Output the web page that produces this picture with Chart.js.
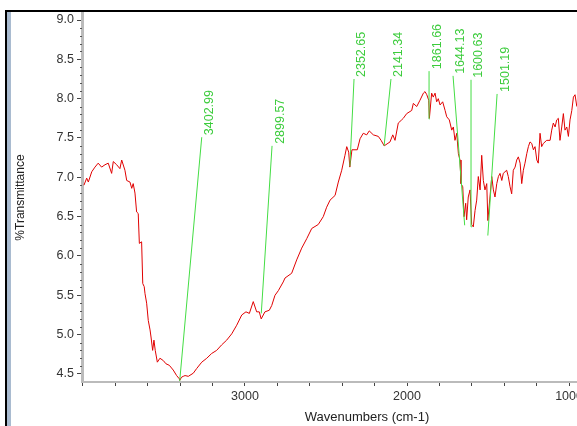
<!DOCTYPE html>
<html>
<head>
<meta charset="utf-8">
<script src="https://cdn.jsdelivr.net/npm/chart.js@4.4.0/dist/chart.umd.min.js"></script>
<style>
  html, body { margin: 0; padding: 0; background: #fff; overflow: hidden; }
  #frame { position: absolute; left: 5px; top: 10px; width: 700px; height: 440px; border-top: 2px solid #000; border-left: 2px solid #000; }
  #strip { position: absolute; left: 7px; top: 12px; width: 4px; height: 440px; background: #a9bbd0; }
  #wrap { position: absolute; left: 0; top: 0; }
</style>
</head>
<body>
<div id="frame"></div>
<div id="strip"></div>
<div id="wrap"><canvas id="irChart" width="700" height="426"></canvas></div>
<script>
// spectrum (cm-1, %T)
const wavenumbers = [
  3994, 3977, 3967, 3946, 3926, 3906, 3885, 3864, 3844, 3823, 3813, 3792, 3772, 3761, 3741, 3730,
  3710, 3699, 3690, 3679, 3669, 3659, 3652, 3638, 3631, 3622, 3617, 3607, 3597, 3586, 3580, 3570,
  3562, 3554, 3541, 3525, 3504, 3488, 3467, 3443, 3422, 3406, 3403, 3391, 3381, 3370, 3350, 3319,
  3298, 3267, 3236, 3206, 3175, 3144, 3113, 3082, 3051, 3020, 2994, 2973, 2949, 2928, 2912, 2900,
  2877, 2850, 2835, 2815, 2794, 2764, 2753, 2712, 2681, 2650, 2619, 2588, 2548, 2517, 2496, 2475,
  2444, 2424, 2403, 2383, 2372, 2360, 2353, 2340, 2307, 2290, 2270, 2249, 2233, 2208, 2177, 2160,
  2141, 2105, 2088, 2074, 2054, 2033, 2023, 2002, 1971, 1961, 1940, 1920, 1899, 1889, 1878, 1866,
  1862, 1848, 1838, 1827, 1817, 1807, 1796, 1780, 1765, 1755, 1739, 1724, 1714, 1704, 1693, 1683,
  1673, 1667, 1656, 1648, 1638, 1632, 1622, 1611, 1601, 1591, 1580, 1570, 1560, 1549, 1539, 1529,
  1519, 1508, 1501, 1488, 1477, 1467, 1457, 1446, 1436, 1426, 1415, 1406, 1385, 1375, 1364, 1354,
  1344, 1333, 1323, 1313, 1302, 1292, 1282, 1272, 1261, 1251, 1241, 1230, 1220, 1210, 1199, 1190,
  1179, 1169, 1159, 1138, 1117, 1107, 1097, 1086, 1076, 1066, 1056, 1045, 1035, 1025, 1014, 1004,
  994, 983, 973, 963, 952
];
const transmittance = [
  6.90, 6.99, 6.94, 7.07, 7.13, 7.18, 7.13, 7.16, 7.18, 7.05, 7.20, 7.16, 7.11, 7.22, 7.09, 6.96,
  6.94, 6.86, 6.92, 6.80, 6.56, 6.54, 6.16, 6.18, 5.65, 5.61, 5.52, 5.40, 5.18, 5.06, 4.97, 4.80,
  4.93, 4.80, 4.65, 4.70, 4.67, 4.63, 4.61, 4.55, 4.48, 4.44, 4.42, 4.46, 4.47, 4.48, 4.47, 4.51,
  4.57, 4.65, 4.70, 4.76, 4.80, 4.87, 4.93, 5.01, 5.12, 5.25, 5.29, 5.27, 5.42, 5.29, 5.29, 5.20,
  5.29, 5.31, 5.37, 5.50, 5.56, 5.67, 5.72, 5.78, 5.95, 6.10, 6.22, 6.35, 6.40, 6.50, 6.62, 6.71,
  6.77, 6.94, 7.09, 7.28, 7.39, 7.32, 7.13, 7.35, 7.35, 7.49, 7.56, 7.54, 7.59, 7.54, 7.52, 7.47,
  7.40, 7.45, 7.54, 7.47, 7.69, 7.73, 7.75, 7.81, 7.85, 7.94, 7.90, 7.98, 8.07, 8.09, 8.05, 7.98,
  7.75, 8.07, 8.02, 8.07, 7.96, 8.00, 7.92, 7.96, 7.85, 7.77, 7.73, 7.60, 7.64, 7.47, 7.56, 7.30,
  7.22, 6.92, 6.88, 6.50, 6.67, 6.46, 6.75, 6.84, 6.40, 6.37, 6.58, 6.71, 7.01, 6.84, 7.28, 6.96,
  6.84, 6.92, 6.45, 6.75, 7.01, 6.84, 6.75, 6.92, 7.01, 7.05, 6.96, 7.05, 7.09, 7.01, 6.88, 6.79,
  7.09, 7.13, 7.22, 7.26, 7.18, 6.92, 7.09, 7.18, 7.30, 7.39, 7.45, 7.43, 7.35, 7.39, 7.22, 7.18,
  7.56, 7.39, 7.43, 7.47, 7.47, 7.60, 7.69, 7.64, 7.73, 7.75, 7.47, 7.64, 7.81, 7.60, 7.64, 7.52,
  7.73, 7.85, 8.02, 8.05, 7.90
];

// picked peaks: label, peak position, and where the leader line ends
const peakLabels = ['3402.99', '2899.57', '2352.65', '2141.34', '1861.66', '1644.13', '1600.63', '1501.19'];
const peakWn = [3402.99, 2899.57, 2352.65, 2141.34, 1861.66, 1644.13, 1600.63, 1501.19];
const peakT = [4.41, 5.27, 7.14, 7.40, 7.74, 6.39, 6.37, 6.26];
const leaderWn = [3267, 2833, 2327, 2099, 1864, 1716, 1605, 1444];
const leaderT = [7.51, 7.40, 8.25, 8.25, 8.35, 8.29, 8.24, 8.06];

const xTickValues = [1000, 1200, 1400, 1600, 1800, 2000, 2200, 2400, 2600, 2800, 3000, 3200, 3400, 3600, 3800, 4000];
const xLabelValues = [1000, 2000, 3000];
const yTickValues = [4.5, 5.0, 5.5, 6.0, 6.5, 7.0, 7.5, 8.0, 8.5, 9.0];

const spectrum = wavenumbers.map((w, i) => ({ x: w, y: transmittance[i] }));

const datasets = [{
    data: spectrum,
    borderColor: '#e00000',
    borderWidth: 1,
    pointRadius: 0,
    tension: 0,
    order: 2
}];
peakLabels.forEach((lbl, i) => {
    datasets.push({
        data: [{ x: peakWn[i], y: peakT[i] }, { x: leaderWn[i], y: leaderT[i] }],
        borderColor: '#44dd44',
        borderWidth: 1,
        pointRadius: 0,
        order: 1
    });
});

const FONT = '"Liberation Sans", Arial, sans-serif';

// rotated peak labels at the top end of each leader line
const peakTextPlugin = {
    id: 'peakText',
    afterDatasetsDraw(chart) {
        const { ctx, scales: { x, y } } = chart;
        ctx.save();
        ctx.fillStyle = '#3ccc3c';
        ctx.font = '12.5px ' + FONT;
        ctx.textAlign = 'left';
        ctx.textBaseline = 'middle';
        peakLabels.forEach((lbl, i) => {
            const px = x.getPixelForValue(leaderWn[i]);
            const py = y.getPixelForValue(leaderT[i]);
            ctx.save();
            ctx.translate(px + 8, py - 2);
            ctx.rotate(-Math.PI / 2);
            ctx.fillText(lbl, 0, 0);
            ctx.restore();
        });
        ctx.restore();
    }
};

// small dots for minor y ticks
const minorDotsPlugin = {
    id: 'minorDots',
    afterDraw(chart) {
        const { ctx, scales: { y }, chartArea } = chart;
        ctx.save();
        ctx.fillStyle = '#555';
        for (let k = 45; k <= 90; k++) {
            if (k % 5 === 0) continue;
            const py = Math.round(y.getPixelForValue(k / 10));
            ctx.fillRect(chartArea.left - 2, py, 2, 1);
        }
        ctx.restore();
    }
};

new Chart(document.getElementById('irChart'), {
    type: 'line',
    data: { datasets: datasets },
    options: {
        responsive: false,
        animation: false,
        layout: { padding: { left: 0, top: 13, right: 48, bottom: 0 } },
        plugins: {
            legend: { display: false },
            tooltip: { enabled: false }
        },
        scales: {
            x: {
                type: 'linear',
                reverse: true,
                min: 488,
                max: 4006,
                afterFit: (scale) => { scale.height = 44; },
                afterBuildTicks: (scale) => { scale.ticks = xTickValues.map(v => ({ value: v })); },
                ticks: {
                    autoSkip: false,
                    maxRotation: 0,
                    padding: 3,
                    color: '#333',
                    font: { family: FONT, size: 12.5 },
                    callback: (v) => xLabelValues.includes(v) ? String(v) : ''
                },
                grid: { drawOnChartArea: false, tickLength: 4, tickColor: '#444' },
                border: { color: '#bbbbbb', width: 2 },
                title: {
                    display: true,
                    text: 'Wavenumbers (cm-1)',
                    color: '#222',
                    font: { family: FONT, size: 13 },
                    padding: { top: 0, bottom: 1 }
                }
            },
            y: {
                min: 4.398,
                max: 9.089,
                afterFit: (scale) => { scale.width = 82; },
                afterBuildTicks: (scale) => { scale.ticks = yTickValues.map(v => ({ value: v })); },
                ticks: {
                    padding: 3,
                    color: '#333',
                    font: { family: FONT, size: 12.5 },
                    callback: (v) => v.toFixed(1)
                },
                grid: { drawOnChartArea: false, tickLength: 5, tickColor: '#444' },
                border: { color: '#bbbbbb', width: 3 },
                title: {
                    display: true,
                    text: '%Transmittance',
                    color: '#222',
                    font: { family: FONT, size: 12 },
                    padding: { top: 13, bottom: 0 }
                }
            }
        }
    },
    plugins: [peakTextPlugin, minorDotsPlugin]
});
</script>
</body>
</html>
